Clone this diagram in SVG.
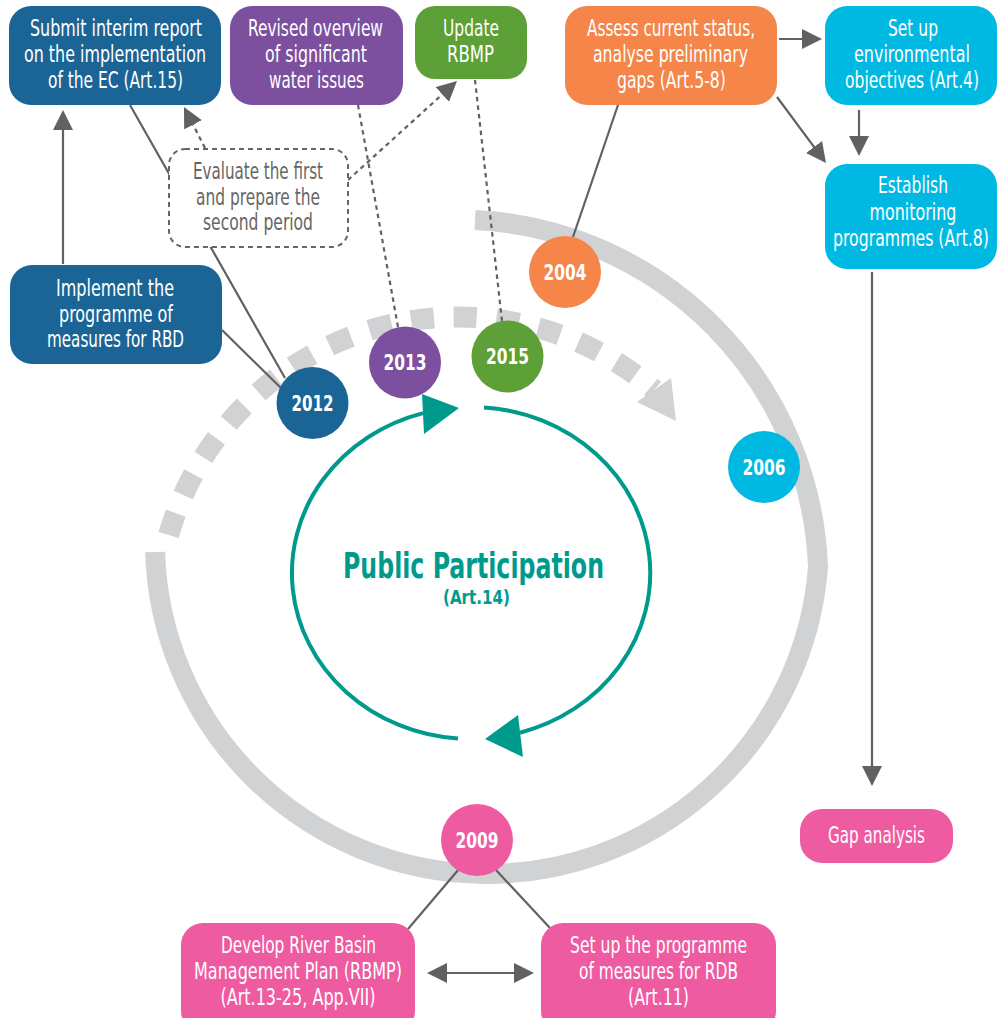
<svg xmlns="http://www.w3.org/2000/svg" width="997" height="1018" viewBox="0 0 997 1018">
<style>
.t{font-family:"Liberation Sans Narrow","DejaVu Sans Condensed","Liberation Sans",sans-serif;fill:#fff;font-size:22.5px;text-anchor:middle}
.ev{fill:#666}
.yr{font-family:"Liberation Sans Narrow","DejaVu Sans Condensed","Liberation Sans",sans-serif;fill:#fff;font-size:22px;font-weight:bold;text-anchor:middle}
.ln{stroke:#616161;stroke-width:2.2;fill:none}
.dt{stroke:#616161;stroke-width:2.2;fill:none;stroke-dasharray:4.5 4}
.blue{fill:#1B6596}.purple{fill:#7C509F}.green{fill:#5CA037}.orange{fill:#F58549}.cyan{fill:#00B9E2}.pink{fill:#EE5BA1}
</style>
<defs>
<marker id="ah" viewBox="0 0 20 20" refX="12" refY="10" markerWidth="20" markerHeight="20" markerUnits="userSpaceOnUse" orient="auto-start-reverse">
<path d="M0,0 L20,10 L0,20 z" fill="#616161"/>
</marker>
</defs>

<g id="cycle">
<path d="M 475 220 A 361 361 0 0 1 818 567 A 332 332 0 0 1 155.1 552" fill="none" stroke="#D1D2D4" stroke-width="20"/>
<path d="M 164.7 550.3 A 301 301 0 0 1 654.3 389.8" fill="none" stroke="#D1D2D4" stroke-width="21" stroke-dasharray="23 19.7" stroke-dashoffset="26.9"/>
<polygon points="637,402 671,378 676,421" fill="#D1D2D4"/>
</g>

<g id="public-participation">
<path d="M 458 738.6 A 179 166 0 0 1 423 413.1" fill="none" stroke="#009A8D" stroke-width="4"/>
<path d="M 484 407.4 A 179 166 0 0 1 520 732.7" fill="none" stroke="#009A8D" stroke-width="4"/>
<polygon points="422,394 424,434 459,408" fill="#009A8D"/>
<polygon points="485,739 518,715 523,757" fill="#009A8D"/>
<text x="473.5" y="578" font-family="'Liberation Sans Narrow','DejaVu Sans Condensed','Liberation Sans',sans-serif" font-weight="bold" font-size="35" fill="#009A8D" text-anchor="middle" textLength="261" lengthAdjust="spacingAndGlyphs">Public Participation</text>
<text x="476.5" y="604" font-family="'Liberation Sans Narrow','DejaVu Sans Condensed','Liberation Sans',sans-serif" font-weight="bold" font-size="19.5" fill="#009A8D" text-anchor="middle" textLength="67" lengthAdjust="spacingAndGlyphs">(Art.14)</text>
</g>

<g id="connectors">
<line class="ln" x1="130" y1="105" x2="285" y2="378"/>
<line class="ln" x1="222" y1="330" x2="281" y2="388"/>
<line class="ln" x1="63" y1="264" x2="63" y2="118" marker-end="url(#ah)"/>
<line class="dt" x1="205" y1="148" x2="187.6" y2="114.1" marker-end="url(#ah)"/>
<line class="dt" x1="348" y1="180" x2="451.1" y2="86.4" marker-end="url(#ah)"/>
<line class="dt" x1="358" y1="105" x2="398" y2="327"/>
<line class="dt" x1="475" y1="80" x2="502" y2="321"/>
<line class="ln" x1="618" y1="105" x2="573" y2="237"/>
<line class="ln" x1="779" y1="39" x2="814" y2="39" marker-end="url(#ah)"/>
<line class="ln" x1="777" y1="97" x2="821.2" y2="156.6" marker-end="url(#ah)"/>
<line class="ln" x1="859" y1="110" x2="859" y2="148" marker-end="url(#ah)"/>
<line class="ln" x1="872" y1="272" x2="872" y2="778" marker-end="url(#ah)"/>
<line class="ln" x1="459" y1="869" x2="408" y2="929"/>
<line class="ln" x1="496" y1="870" x2="550" y2="928"/>
<line class="ln" x1="435" y1="973" x2="526" y2="973" marker-start="url(#ah)" marker-end="url(#ah)"/>
</g>

<g id="submit-report">
<rect class="blue" x="9" y="6" width="212" height="99" rx="22"/>
<text class="t" x="116" y="35.5" textLength="172" lengthAdjust="spacingAndGlyphs">Submit interim report</text>
<text class="t" x="115" y="61.5" textLength="182" lengthAdjust="spacingAndGlyphs">on the implementation</text>
<text class="t" x="115.5" y="87.5" textLength="135" lengthAdjust="spacingAndGlyphs">of the EC (Art.15)</text>
</g>

<g id="revised-overview">
<rect class="purple" x="230" y="6" width="173" height="99" rx="22"/>
<text class="t" x="315.5" y="35.5" textLength="135" lengthAdjust="spacingAndGlyphs">Revised overview</text>
<text class="t" x="316" y="61.5" textLength="102" lengthAdjust="spacingAndGlyphs">of significant</text>
<text class="t" x="316.5" y="87.5" textLength="95" lengthAdjust="spacingAndGlyphs">water issues</text>
</g>

<g id="update-rbmp">
<rect class="green" x="415" y="6" width="112" height="73" rx="20"/>
<text class="t" x="471" y="35.5" textLength="56" lengthAdjust="spacingAndGlyphs">Update</text>
<text class="t" x="470.5" y="61.5" textLength="47" lengthAdjust="spacingAndGlyphs">RBMP</text>
</g>

<g id="assess-status">
<rect class="orange" x="565" y="6" width="212" height="99" rx="22"/>
<text class="t" x="671" y="35.5" textLength="168" lengthAdjust="spacingAndGlyphs">Assess current status,</text>
<text class="t" x="670.5" y="61.5" textLength="155" lengthAdjust="spacingAndGlyphs">analyse preliminary</text>
<text class="t" x="671.5" y="87.5" textLength="109" lengthAdjust="spacingAndGlyphs">gaps (Art.5-8)</text>
</g>

<g id="environmental-objectives">
<rect class="cyan" x="825" y="6" width="172" height="99" rx="22"/>
<text class="t" x="913" y="35.5" textLength="50" lengthAdjust="spacingAndGlyphs">Set up</text>
<g transform="translate(912,61.5) scale(0.8,1)"><text class="t" x="0" y="0" textLength="145" lengthAdjust="spacingAndGlyphs">environmental</text></g>
<g transform="translate(912,87.5) scale(0.8,1)"><text class="t" x="0" y="0" textLength="167.5" lengthAdjust="spacingAndGlyphs">objectives (Art.4)</text></g>
</g>

<g id="monitoring-programmes">
<rect class="cyan" x="825" y="164" width="172" height="105" rx="22"/>
<text class="t" x="913" y="193" textLength="70" lengthAdjust="spacingAndGlyphs">Establish</text>
<text class="t" x="913" y="219.5" textLength="87" lengthAdjust="spacingAndGlyphs">monitoring</text>
<g transform="translate(911,246) scale(0.8,1)"><text class="t" x="0" y="0" textLength="195" lengthAdjust="spacingAndGlyphs">programmes (Art.8)</text></g>
</g>

<g id="implement-measures">
<rect class="blue" x="10" y="265" width="212" height="99" rx="22"/>
<text class="t" x="115" y="296" textLength="118" lengthAdjust="spacingAndGlyphs">Implement the</text>
<text class="t" x="116" y="321.5" textLength="114" lengthAdjust="spacingAndGlyphs">programme of</text>
<text class="t" x="115.5" y="347" textLength="137" lengthAdjust="spacingAndGlyphs">measures for RBD</text>
</g>

<g id="evaluate-period">
<rect x="169" y="149" width="179" height="98" rx="16" fill="#fff" stroke="#666" stroke-width="2" stroke-dasharray="5 4"/>
<text class="t ev" x="258" y="179" font-size="21.5" textLength="130" lengthAdjust="spacingAndGlyphs">Evaluate the first</text>
<text class="t ev" x="258" y="204.5" font-size="21.5" textLength="124" lengthAdjust="spacingAndGlyphs">and prepare the</text>
<text class="t ev" x="258" y="230" font-size="21.5" textLength="110" lengthAdjust="spacingAndGlyphs">second period</text>
</g>

<g id="gap-analysis">
<rect class="pink" x="800" y="809" width="153" height="54" rx="22"/>
<text class="t" x="876.5" y="843" font-size="22" textLength="97" lengthAdjust="spacingAndGlyphs">Gap analysis</text>
</g>

<g id="develop-rbmp">
<rect class="pink" x="181" y="923" width="234" height="110" rx="22"/>
<text class="t" x="298.5" y="953" font-size="22" textLength="155" lengthAdjust="spacingAndGlyphs">Develop River Basin</text>
<text class="t" x="298" y="979" font-size="22" textLength="208" lengthAdjust="spacingAndGlyphs">Management Plan (RBMP)</text>
<text class="t" x="298" y="1005" font-size="22" textLength="155" lengthAdjust="spacingAndGlyphs">(Art.13-25, App.VII)</text>
</g>

<g id="programme-measures-rdb">
<rect class="pink" x="541" y="923" width="235" height="110" rx="22"/>
<text class="t" x="658.5" y="953" font-size="22" textLength="177" lengthAdjust="spacingAndGlyphs">Set up the programme</text>
<text class="t" x="658.5" y="979" font-size="22" textLength="159" lengthAdjust="spacingAndGlyphs">of measures for RDB</text>
<text class="t" x="658.5" y="1005" font-size="22" textLength="61" lengthAdjust="spacingAndGlyphs">(Art.11)</text>
</g>

<g id="year-2004">
<circle class="orange" cx="565" cy="272" r="36"/>
<text class="yr" x="565" y="279.5" textLength="43" lengthAdjust="spacingAndGlyphs">2004</text>
</g>
<g id="year-2006">
<circle class="cyan" cx="764" cy="467" r="36"/>
<text class="yr" x="764" y="474.5" textLength="43" lengthAdjust="spacingAndGlyphs">2006</text>
</g>
<g id="year-2009">
<circle class="pink" cx="477" cy="840" r="36"/>
<text class="yr" x="477" y="847.5" textLength="43" lengthAdjust="spacingAndGlyphs">2009</text>
</g>
<g id="year-2012">
<circle class="blue" cx="312.5" cy="403" r="36"/>
<text class="yr" x="312.5" y="410.5" textLength="42" lengthAdjust="spacingAndGlyphs">2012</text>
</g>
<g id="year-2013">
<circle class="purple" cx="405" cy="362.5" r="36"/>
<text class="yr" x="405" y="370" textLength="43" lengthAdjust="spacingAndGlyphs">2013</text>
</g>
<g id="year-2015">
<circle class="green" cx="507.5" cy="356.5" r="36"/>
<text class="yr" x="507.5" y="364" textLength="43" lengthAdjust="spacingAndGlyphs">2015</text>
</g>
</svg>
